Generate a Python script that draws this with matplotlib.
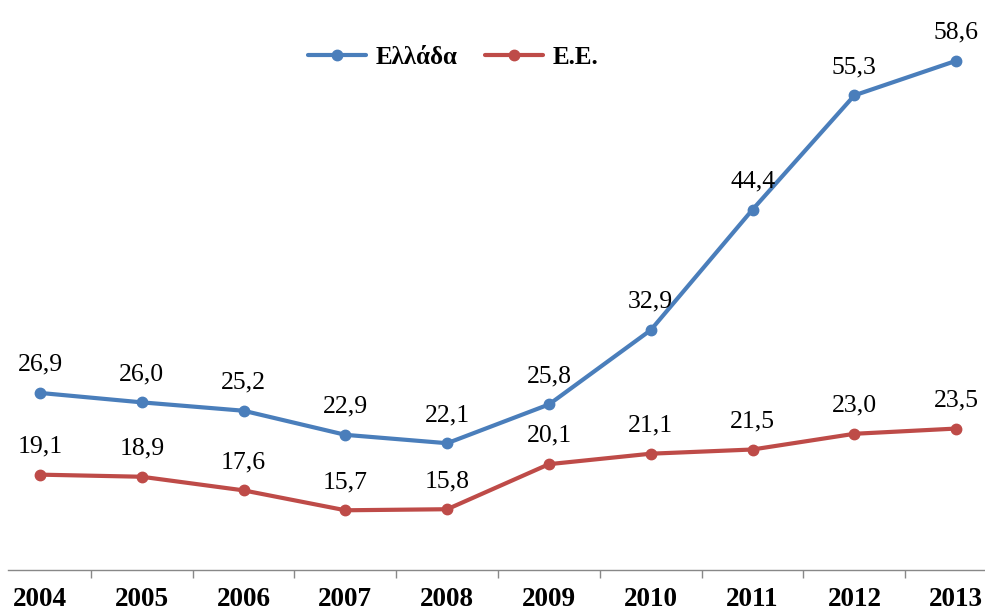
import matplotlib.pyplot as plt
from matplotlib.ticker import FixedLocator, NullFormatter

years = ['2004', '2005', '2006', '2007', '2008', '2009', '2010', '2011', '2012', '2013']
greece = [26.9, 26.0, 25.2, 22.9, 22.1, 25.8, 32.9, 44.4, 55.3, 58.6]
eu = [19.1, 18.9, 17.6, 15.7, 15.8, 20.1, 21.1, 21.5, 23.0, 23.5]
series_names = ['Ελλάδα', 'Ε.Ε.']

blue = '#4A7EBB'
red = '#BE4B48'
serif = 'Liberation Serif'

fig = plt.figure(figsize=(9.85, 6.12), dpi=100)
ax = fig.add_axes([8 / 985, 42 / 612, 977 / 985, 570 / 612])

x = list(range(len(years)))
for vals, color, name in [(greece, blue, series_names[0]), (eu, red, series_names[1])]:
    ax.plot(x, vals, color=color, lw=3, marker='o', ms=7.5, label=name,
            solid_capstyle='round')
    for xi, v in zip(x, vals):
        ax.annotate(f'{v:.1f}'.replace('.', ','), (xi, v), xytext=(0, 16),
                    textcoords='offset points', ha='center', va='baseline',
                    fontsize=18.5, family=serif)

ax.set_xlim(-0.314, 9.283)
ax.set_ylim(10, 64.4)

# category labels at the points, tick marks between categories
ax.set_xticks(x)
ax.set_xticklabels(years, fontsize=19.5, fontweight='bold', family=serif)
ax.tick_params(axis='x', which='major', length=0, pad=12.5)
ax.xaxis.set_minor_locator(FixedLocator([i + 0.5 for i in range(len(years) - 1)]))
ax.xaxis.set_minor_formatter(NullFormatter())
ax.tick_params(axis='x', which='minor', length=6, width=1, color='#888888')

ax.set_yticks([])
for side in ['left', 'right', 'top']:
    ax.spines[side].set_visible(False)
ax.spines['bottom'].set_color('#888888')
ax.spines['bottom'].set_linewidth(1)

ax.legend(loc='center', bbox_to_anchor=(0.456, 0.9), ncol=2, frameon=False,
          prop={'family': serif, 'weight': 'bold', 'size': 18},
          handlelength=2.3, columnspacing=1.1, handletextpad=0.4)

fig.savefig('out.png', dpi=100)
